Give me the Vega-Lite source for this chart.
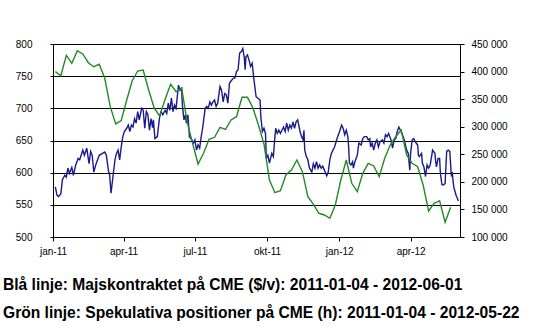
{
  "$schema": "https://vega.github.io/schema/vega-lite/v6.json",
  "width": 407,
  "height": 193,
  "autosize": "none",
  "padding": {"left": 53, "top": 44, "right": 74, "bottom": 95},
  "background": "white",
  "config": {
    "view": {"stroke": null},
    "axis": {"labelFont": "Liberation Sans", "labelFontSize": 10, "labelColor": "black", "domainColor": "black", "tickColor": "black", "title": null, "domainWidth": 1, "tickWidth": 1}
  },
  "title": {
    "text": ["Blå linje: Majskontraktet på CME ($/v): 2011-01-04 - 2012-06-01", "Grön linje: Spekulativa positioner på CME (h): 2011-01-04 - 2012-05-22"],
    "orient": "bottom", "anchor": "start", "frame": "group",
    "font": "Liberation Sans", "fontSize": 15.6, "fontWeight": "bold", "color": "black",
    "baseline": "alphabetic",
    "dx": -50, "offset": 34, "lineHeight": 28
  },
  "datasets": {
    "price": [
      {"date":"2011-01-04","value":578},{"date":"2011-01-06","value":565},{"date":"2011-01-08","value":563},{"date":"2011-01-11","value":567},{"date":"2011-01-13","value":589},{"date":"2011-01-16","value":596},{"date":"2011-01-18","value":593},{"date":"2011-01-20","value":607},{"date":"2011-01-22","value":599},{"date":"2011-01-25","value":608},{"date":"2011-01-27","value":596},{"date":"2011-01-30","value":612},
      {"date":"2011-02-02","value":622},{"date":"2011-02-04","value":620},{"date":"2011-02-08","value":635},{"date":"2011-02-10","value":627},{"date":"2011-02-13","value":638},{"date":"2011-02-16","value":614},{"date":"2011-02-18","value":633},{"date":"2011-02-20","value":627},{"date":"2011-02-22","value":601},{"date":"2011-02-25","value":614},
      {"date":"2011-03-01","value":627},{"date":"2011-03-05","value":630},{"date":"2011-03-08","value":632},{"date":"2011-03-10","value":627},{"date":"2011-03-13","value":601},{"date":"2011-03-14","value":599},{"date":"2011-03-16","value":568},{"date":"2011-03-18","value":589},{"date":"2011-03-21","value":620},{"date":"2011-03-23","value":630},{"date":"2011-03-25","value":635},{"date":"2011-03-27","value":620},{"date":"2011-03-29","value":640},{"date":"2011-03-31","value":656},
      {"date":"2011-04-02","value":664},{"date":"2011-04-05","value":669},{"date":"2011-04-07","value":674},{"date":"2011-04-09","value":664},{"date":"2011-04-11","value":674},{"date":"2011-04-13","value":671},{"date":"2011-04-15","value":684},{"date":"2011-04-17","value":677},{"date":"2011-04-19","value":695},{"date":"2011-04-21","value":682},{"date":"2011-04-24","value":700},{"date":"2011-04-26","value":697},{"date":"2011-04-28","value":669},{"date":"2011-04-30","value":695},
      {"date":"2011-05-02","value":690},{"date":"2011-05-04","value":666},{"date":"2011-05-06","value":684},{"date":"2011-05-08","value":670},{"date":"2011-05-09","value":682},{"date":"2011-05-11","value":653},{"date":"2011-05-14","value":656},{"date":"2011-05-17","value":687},{"date":"2011-05-19","value":695},{"date":"2011-05-21","value":690},{"date":"2011-05-24","value":697},{"date":"2011-05-26","value":692},{"date":"2011-05-28","value":708},{"date":"2011-05-30","value":697},
      {"date":"2011-06-01","value":716},{"date":"2011-06-03","value":695},{"date":"2011-06-05","value":705},{"date":"2011-06-07","value":700},{"date":"2011-06-10","value":736},{"date":"2011-06-12","value":728},{"date":"2011-06-14","value":731},{"date":"2011-06-15","value":705},{"date":"2011-06-17","value":682},{"date":"2011-06-19","value":690},{"date":"2011-06-20","value":677},{"date":"2011-06-22","value":690},{"date":"2011-06-24","value":656},{"date":"2011-06-27","value":651},{"date":"2011-06-29","value":646},
      {"date":"2011-07-01","value":651},{"date":"2011-07-03","value":635},{"date":"2011-07-05","value":643},{"date":"2011-07-07","value":638},{"date":"2011-07-09","value":656},{"date":"2011-07-11","value":671},{"date":"2011-07-14","value":700},{"date":"2011-07-16","value":703},{"date":"2011-07-18","value":700},{"date":"2011-07-20","value":710},{"date":"2011-07-22","value":705},{"date":"2011-07-24","value":710},{"date":"2011-07-26","value":713},{"date":"2011-07-28","value":703},{"date":"2011-07-30","value":708},
      {"date":"2011-08-02","value":734},{"date":"2011-08-04","value":728},{"date":"2011-08-06","value":710},{"date":"2011-08-08","value":723},{"date":"2011-08-10","value":721},{"date":"2011-08-12","value":708},{"date":"2011-08-14","value":739},{"date":"2011-08-17","value":744},{"date":"2011-08-19","value":747},{"date":"2011-08-21","value":747},{"date":"2011-08-23","value":757},{"date":"2011-08-25","value":760},{"date":"2011-08-27","value":786},{"date":"2011-08-29","value":788},{"date":"2011-08-31","value":793},
      {"date":"2011-09-02","value":778},{"date":"2011-09-03","value":760},{"date":"2011-09-04","value":780},{"date":"2011-09-06","value":783},{"date":"2011-09-08","value":775},{"date":"2011-09-10","value":765},{"date":"2011-09-12","value":770},{"date":"2011-09-14","value":747},{"date":"2011-09-17","value":718},{"date":"2011-09-19","value":716},{"date":"2011-09-22","value":713},{"date":"2011-09-23","value":687},{"date":"2011-09-25","value":664},{"date":"2011-09-27","value":669},{"date":"2011-09-29","value":661},{"date":"2011-09-30","value":622},
      {"date":"2011-10-02","value":627},{"date":"2011-10-04","value":615},{"date":"2011-10-07","value":630},{"date":"2011-10-09","value":625},{"date":"2011-10-11","value":656},{"date":"2011-10-12","value":669},{"date":"2011-10-14","value":661},{"date":"2011-10-16","value":666},{"date":"2011-10-18","value":661},{"date":"2011-10-20","value":666},{"date":"2011-10-22","value":671},{"date":"2011-10-24","value":664},{"date":"2011-10-26","value":677},{"date":"2011-10-28","value":666},{"date":"2011-10-30","value":674},
      {"date":"2011-11-01","value":669},{"date":"2011-11-03","value":679},{"date":"2011-11-05","value":669},{"date":"2011-11-07","value":679},{"date":"2011-11-09","value":682},{"date":"2011-11-12","value":664},{"date":"2011-11-14","value":656},{"date":"2011-11-16","value":651},{"date":"2011-11-17","value":666},{"date":"2011-11-18","value":635},{"date":"2011-11-20","value":625},{"date":"2011-11-22","value":620},{"date":"2011-11-24","value":607},{"date":"2011-11-27","value":601},{"date":"2011-11-29","value":614},
      {"date":"2011-12-01","value":607},{"date":"2011-12-03","value":617},{"date":"2011-12-05","value":607},{"date":"2011-12-07","value":612},{"date":"2011-12-09","value":607},{"date":"2011-12-11","value":610},{"date":"2011-12-13","value":604},{"date":"2011-12-16","value":595},{"date":"2011-12-18","value":601},{"date":"2011-12-20","value":620},{"date":"2011-12-22","value":630},{"date":"2011-12-24","value":635},{"date":"2011-12-26","value":640},{"date":"2011-12-28","value":648},{"date":"2011-12-30","value":656},
      {"date":"2012-01-02","value":666},{"date":"2012-01-04","value":674},{"date":"2012-01-06","value":669},{"date":"2012-01-08","value":659},{"date":"2012-01-10","value":666},{"date":"2012-01-12","value":656},{"date":"2012-01-13","value":640},{"date":"2012-01-14","value":615},{"date":"2012-01-16","value":612},{"date":"2012-01-18","value":617},{"date":"2012-01-19","value":607},{"date":"2012-01-21","value":617},{"date":"2012-01-24","value":627},{"date":"2012-01-26","value":646},{"date":"2012-01-29","value":643},{"date":"2012-01-31","value":653},
      {"date":"2012-02-02","value":656},{"date":"2012-02-05","value":656},{"date":"2012-02-07","value":651},{"date":"2012-02-09","value":653},{"date":"2012-02-10","value":640},{"date":"2012-02-12","value":646},{"date":"2012-02-14","value":635},{"date":"2012-02-16","value":646},{"date":"2012-02-18","value":651},{"date":"2012-02-20","value":640},{"date":"2012-02-22","value":648},{"date":"2012-02-25","value":651},{"date":"2012-02-27","value":646},{"date":"2012-02-29","value":659},
      {"date":"2012-03-02","value":656},{"date":"2012-03-04","value":661},{"date":"2012-03-07","value":651},{"date":"2012-03-09","value":638},{"date":"2012-03-11","value":651},{"date":"2012-03-13","value":653},{"date":"2012-03-15","value":664},{"date":"2012-03-17","value":671},{"date":"2012-03-19","value":666},{"date":"2012-03-21","value":661},{"date":"2012-03-24","value":651},{"date":"2012-03-26","value":640},{"date":"2012-03-27","value":635},{"date":"2012-03-29","value":630},{"date":"2012-03-31","value":604},
      {"date":"2012-04-01","value":630},{"date":"2012-04-03","value":651},{"date":"2012-04-05","value":653},{"date":"2012-04-07","value":648},{"date":"2012-04-10","value":643},{"date":"2012-04-11","value":627},{"date":"2012-04-12","value":625},{"date":"2012-04-15","value":630},{"date":"2012-04-16","value":615},{"date":"2012-04-18","value":609},{"date":"2012-04-20","value":594},{"date":"2012-04-22","value":612},{"date":"2012-04-24","value":607},{"date":"2012-04-26","value":612},{"date":"2012-04-28","value":627},{"date":"2012-04-29","value":635},
      {"date":"2012-05-02","value":630},{"date":"2012-05-03","value":617},{"date":"2012-05-04","value":609},{"date":"2012-05-06","value":622},{"date":"2012-05-08","value":622},{"date":"2012-05-09","value":599},{"date":"2012-05-11","value":581},{"date":"2012-05-13","value":581},{"date":"2012-05-15","value":583},{"date":"2012-05-17","value":633},{"date":"2012-05-19","value":635},{"date":"2012-05-21","value":633},{"date":"2012-05-23","value":594},{"date":"2012-05-24","value":601},{"date":"2012-05-26","value":578},{"date":"2012-05-29","value":565},{"date":"2012-06-01","value":556}
    ],
    "positions": [
      {"date":"2011-01-04","value":400000},{"date":"2011-01-11","value":392500},{"date":"2011-01-18","value":429500},{"date":"2011-01-25","value":415000},{"date":"2011-02-01","value":437900},{"date":"2011-02-08","value":431900},{"date":"2011-02-15","value":416100},{"date":"2011-02-22","value":408800},{"date":"2011-03-01","value":413200},{"date":"2011-03-08","value":387800},{"date":"2011-03-15","value":336300},{"date":"2011-03-22","value":305200},{"date":"2011-03-29","value":311200},{"date":"2011-04-05","value":348400},{"date":"2011-04-12","value":383400},{"date":"2011-04-19","value":401000},{"date":"2011-04-26","value":402800},{"date":"2011-05-03","value":366600},{"date":"2011-05-10","value":334000},{"date":"2011-05-17","value":319400},{"date":"2011-05-24","value":349700},{"date":"2011-05-31","value":376900},{"date":"2011-06-07","value":363500},{"date":"2011-06-14","value":370700},{"date":"2011-06-21","value":309100},{"date":"2011-06-28","value":269900},
      {"date":"2011-07-05","value":232400},{"date":"2011-07-12","value":251800},{"date":"2011-07-19","value":277200},{"date":"2011-07-26","value":280800},{"date":"2011-08-02","value":298900},{"date":"2011-08-09","value":295300},{"date":"2011-08-16","value":312200},{"date":"2011-08-23","value":318200},{"date":"2011-08-30","value":353300},{"date":"2011-09-06","value":353300},{"date":"2011-09-13","value":334000},{"date":"2011-09-20","value":303100},{"date":"2011-09-27","value":268700},{"date":"2011-10-04","value":203400},{"date":"2011-10-11","value":180300},{"date":"2011-10-18","value":184000},{"date":"2011-10-25","value":212400},{"date":"2011-11-01","value":221500},{"date":"2011-11-08","value":239600},{"date":"2011-11-15","value":218400},{"date":"2011-11-22","value":173100},{"date":"2011-11-29","value":159800},{"date":"2011-12-06","value":143000},{"date":"2011-12-13","value":139900},{"date":"2011-12-20","value":133900},{"date":"2011-12-27","value":158000},
      {"date":"2012-01-03","value":203400},{"date":"2012-01-10","value":239600},{"date":"2012-01-17","value":197400},{"date":"2012-01-24","value":182200},{"date":"2012-01-31","value":215500},{"date":"2012-02-07","value":233600},{"date":"2012-02-14","value":228800},{"date":"2012-02-21","value":209300},{"date":"2012-02-28","value":242700},{"date":"2012-03-06","value":266800},{"date":"2012-03-13","value":281900},{"date":"2012-03-20","value":294000},{"date":"2012-03-27","value":248700},{"date":"2012-04-03","value":233600},{"date":"2012-04-10","value":227500},{"date":"2012-04-17","value":194300},{"date":"2012-04-24","value":147100},{"date":"2012-05-01","value":161100},{"date":"2012-05-08","value":165800},{"date":"2012-05-15","value":126700},{"date":"2012-05-22","value":153900}
    ]
  },
  "encoding": {
    "x": {
      "field": "date", "type": "temporal",
      "scale": {"domain": [{"year": 2011, "month": 1, "date": 1}, {"year": 2012, "month": 6, "date": 3}]},
      "axis": {
        "values": [{"year": 2011, "month": 1, "date": 1}, {"year": 2011, "month": 4, "date": 1}, {"year": 2011, "month": 7, "date": 1}, {"year": 2011, "month": 10, "date": 1}, {"year": 2012, "month": 1, "date": 1}, {"year": 2012, "month": 4, "date": 1}],
        "labelExpr": "replace(lower(timeFormat(datum.value, '%b-%y')), 'oct', 'okt')",
        "grid": false, "tickSize": 4, "labelPadding": 5, "labelFlush": false, "labelOverlap": false
      }
    }
  },
  "layer": [
    {
      "data": {"name": "price"},
      "mark": {"type": "line", "color": "#1a1a8c", "strokeWidth": 1.4, "clip": true},
      "encoding": {
        "y": {
          "field": "value", "type": "quantitative",
          "scale": {"domain": [500, 800], "nice": false, "zero": false},
          "axis": {"values": [500, 550, 600, 650, 700, 750, 800], "grid": true, "gridColor": "black", "gridWidth": 1, "gridOpacity": 1, "tickSize": 3, "labelPadding": 18}
        }
      }
    },
    {
      "data": {"name": "positions"},
      "mark": {"type": "line", "color": "#248a24", "strokeWidth": 1.4, "clip": true},
      "encoding": {
        "y": {
          "field": "value", "type": "quantitative",
          "scale": {"domain": [100000, 450000], "nice": false, "zero": false},
          "axis": {"orient": "right", "values": [100000, 150000, 200000, 250000, 300000, 350000, 400000, 450000], "grid": false, "tickSize": 4, "labelPadding": 7, "labelExpr": "replace(format(datum.value, ','), ',', ' ')"}
        }
      }
    }
  ],
  "resolve": {"scale": {"y": "independent"}}
}
